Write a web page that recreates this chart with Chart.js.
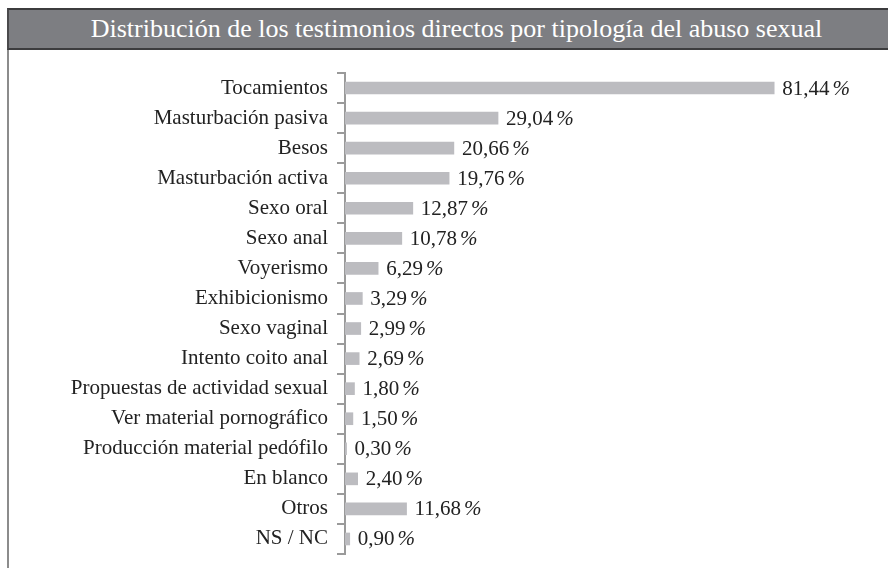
<!DOCTYPE html>
<html>
<head>
<meta charset="utf-8">
<script src="https://cdn.jsdelivr.net/npm/chart.js@4"></script>
<style>
  html, body { margin: 0; padding: 0; background: #fff; }
  #wrap { position: relative; width: 888px; height: 568px; overflow: hidden; }
  #titulo {
    position: absolute; left: 7px; top: 8px; width: 863px; height: 38px;
    background: #7d7e82; border-top: 2px solid #3c3c3e; border-bottom: 2px solid #3c3c3e;
    border-left: 2px solid #4a4a4c;
    color: #fff; font-family: "Liberation Serif", serif; font-size: 26px;
    line-height: 38px; text-align: center; padding-left: 16px; box-sizing: content-box;
    white-space: nowrap;
  }
  #borde { position: absolute; left: 7px; top: 50px; width: 2px; height: 518px; background: #8c8c8c; }
  canvas { position: absolute; left: 0; top: 0; }
</style>
</head>
<body>
<div id="wrap">
  <canvas id="grafico" width="888" height="568"></canvas>
  <div id="titulo">Distribución de los testimonios directos por tipología del abuso sexual</div>
  <div id="borde"></div>
</div>
<script>
(function(){
    var categorias = ['Tocamientos', 'Masturbación pasiva', 'Besos', 'Masturbación activa', 'Sexo oral',
        'Sexo anal', 'Voyerismo', 'Exhibicionismo', 'Sexo vaginal', 'Intento coito anal',
        'Propuestas de actividad sexual', 'Ver material pornográfico', 'Producción material pedófilo',
        'En blanco', 'Otros', 'NS / NC'];
    var porcentajes = [81.44, 29.04, 20.66, 19.76, 12.87, 10.78, 6.29, 3.29, 2.99, 2.69, 1.80, 1.50, 0.30, 2.40, 11.68, 0.90];

    // etiquetas de valor al final de cada barra
    const etiquetas = {
        id: 'etiquetas',
        afterDatasetsDraw(chart) {
            const ctx = chart.ctx;
            const meta = chart.getDatasetMeta(0);
            ctx.save();
            ctx.fillStyle = '#222';
            ctx.textBaseline = 'middle';
            meta.data.forEach(function(bar, i) {
                var txt = porcentajes[i].toFixed(2).replace('.', ',');
                var x = bar.x + 8;
                var y = bar.y + 1;
                ctx.font = '21px "Liberation Serif", serif';
                ctx.fillText(txt, x, y);
                var w = ctx.measureText(txt).width;
                ctx.font = 'italic 21px "Liberation Serif", serif';
                ctx.fillText('%', x + w + 3, y);
            });
            ctx.restore();
        }
    };

    const data = {
        labels: categorias,
        datasets: [{
            data: porcentajes,
            backgroundColor: '#bcbcc0',
            barThickness: 12
        }]
    };

    const config = {
        type: 'bar',
        data,
        options: {
            indexAxis: 'y',
            responsive: false,
            animation: false,
            layout: { padding: { top: 73, bottom: 14, left: 0, right: 16 } },
            scales: {
                x: { display: false, min: 0, max: 100 },
                y: {
                    afterFit: function(scale) {
                        scale.width = 345;
                        scale.paddingTop = 0;
                        scale.paddingBottom = 0;
                    },
                    border: { display: true, color: '#9a9a9a', width: 2 },
                    grid: { offset: true, drawOnChartArea: false, tickLength: 8, color: '#9a9a9a', lineWidth: 2 },
                    ticks: { color: '#222', padding: 9, font: { family: '"Liberation Serif", serif', size: 21 } }
                }
            },
            plugins: {
                legend: { display: false },
                tooltip: { enabled: false }
            }
        },
        plugins: [etiquetas]
    };

    const grafico = new Chart(document.getElementById('grafico'), config);
})();
</script>
</body>
</html>
